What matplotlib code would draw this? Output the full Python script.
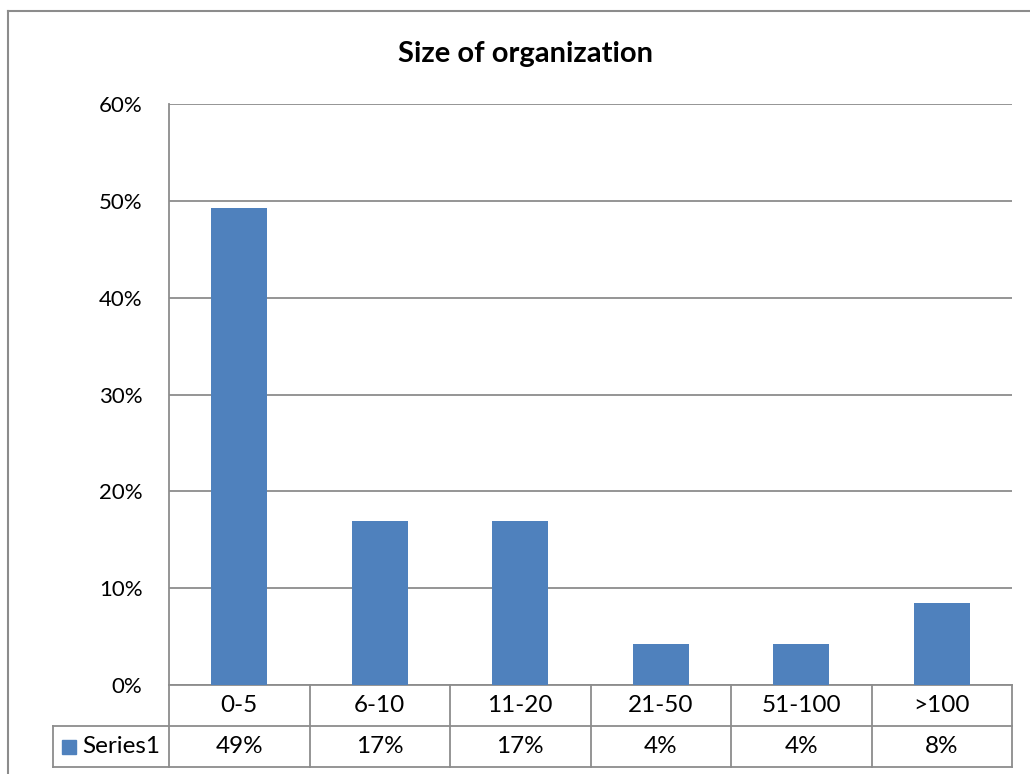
import numpy as np
import matplotlib
matplotlib.use('Agg')
import matplotlib.pyplot as plt
import matplotlib.transforms as mtransforms
from matplotlib.patches import Rectangle

categories  = ['0-5', '6-10', '11-20', '21-50', '51-100', '>100']
values      = [49.3, 16.9, 16.9, 4.2, 4.2, 8.5]
value_text  = ['49%', '17%', '17%', '4%', '4%', '8%']
series_name = 'Series1'
y_ticks     = [0, 10, 20, 30, 40, 50, 60]

bar_color   = '#4F81BD'
line_color  = '#8C8C8C'

plt.rcParams['font.family'] = ['Lato', 'DejaVu Sans']

fig     = plt.figure(figsize = (10.30, 7.74), dpi = 100)
ax      = fig.add_axes([169 / 1030, 1 - 685 / 774, 843 / 1030, 581 / 774])

x = np.arange(len(categories))
ax.bar(x, values, width = 0.4, color = bar_color, zorder = 3)

ax.set_xlim(-0.5, len(categories) - 0.5)
ax.set_ylim(0, 60)
ax.set_yticks(y_ticks)
ax.set_yticklabels([str(t) + '%' for t in y_ticks], fontsize = 16)
ax.set_xticks([])
ax.tick_params(axis = 'y', length = 0, pad = 19)
ax.grid(axis = 'y', color = line_color, linewidth = 1.3, zorder = 0)

for side in ['top', 'right', 'bottom']:
    ax.spines[side].set_visible(False)
ax.spines['left'].set_color(line_color)
ax.spines['left'].set_linewidth(1.3)

fig.text(525 / 1030, 1 - 54 / 774, 'Size of organization', fontsize = 21, fontweight = 'bold',
         ha = 'center', va = 'center')

# data table under the plot
trans   = mtransforms.blended_transform_factory(ax.transData, ax.transAxes)
row_h   = 41 / 581
x_left  = -0.5
x_right = len(categories) - 0.5
x_label = x_left - 116 / 140.5

def hline(y, x0, x1):
    ax.plot([x0, x1], [y, y], color = line_color, lw = 1.3, transform = trans, clip_on = False)

def vline(xv, y0, y1):
    ax.plot([xv, xv], [y0, y1], color = line_color, lw = 1.3, transform = trans, clip_on = False)

hline(0, x_left, x_right)
hline(-row_h, x_label, x_right)
hline(-2 * row_h, x_label, x_right)
vline(x_label, -row_h, -2 * row_h)
for b in np.arange(len(categories) + 1) - 0.5:
    vline(b, 0, -2 * row_h)

for i, c in enumerate(categories):
    ax.text(i, -row_h / 2, c, ha = 'center', va = 'center', fontsize = 17.5, transform = trans)
    ax.text(i, -1.5 * row_h, value_text[i], ha = 'center', va = 'center', fontsize = 17.5, transform = trans)

ax.add_patch(Rectangle((x_label + 9 / 140.5, -1.5 * row_h - 7 / 581), 14 / 140.5, 14 / 581,
                       color = bar_color, transform = trans, clip_on = False))
ax.text(x_label + 29 / 140.5, -1.5 * row_h, series_name, ha = 'left', va = 'center',
        fontsize = 17.5, transform = trans)

# outer chart frame, cut off at the right and bottom
fig.add_artist(plt.Line2D([8 / 1030, 8 / 1030], [0, 1 - 11 / 774], color = line_color, lw = 1.5))
fig.add_artist(plt.Line2D([8 / 1030, 1], [1 - 11 / 774, 1 - 11 / 774], color = line_color, lw = 1.5))

fig.savefig('out.png', dpi = 100)
